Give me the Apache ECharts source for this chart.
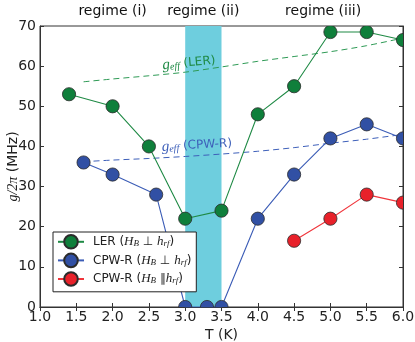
<!DOCTYPE html>
<html>
<head>
<meta charset="utf-8">
<script src="https://cdn.jsdelivr.net/npm/echarts@6/dist/echarts.min.js"></script>
<style>
  html, body { margin: 0; padding: 0; background: #fff; }
  #chart { width: 415px; height: 342px; }
</style>
</head>
<body>
<div id="chart"></div>
<script>
// measured coupling vs temperature
var tLER = [1.4, 2.0, 2.5, 3.0, 3.5, 4.0, 4.5, 5.0, 5.5, 6.0];
var gLER = [53, 50, 40, 22, 24, 48, 55, 68.5, 68.5, 66.5];
var tPerp = [1.6, 2.0, 2.6, 3.0, 3.3, 3.5, 4.0, 4.5, 5.0, 5.5, 6.0];
var gPerp = [36, 33, 28, 0, 0, 0, 22, 33, 42, 45.5, 42];
var tPar = [4.5, 5.0, 5.5, 6.0];
var gPar = [16.5, 22, 28, 26];

// g_eff curves (dashed)
var tEff = [1.6, 2.0, 2.5, 3.0, 3.5, 4.0, 4.5, 5.0, 5.5, 6.0];
var effLER = [56.1, 56.8, 57.6, 58.5, 59.8, 61.2, 62.4, 63.6, 65.1, 67];
var effCPW = [36.2, 36.6, 37.0, 37.5, 38.1, 38.8, 39.7, 40.8, 41.8, 43];

var regimeBand = [3.0, 3.5];
var regimeNames = ['regime (i)', 'regime (ii)', 'regime (iii)'];
var regimeT = [2.0, 3.25, 4.9];

var GREEN = '#0f7f3b', BLUE = '#3150a4', RED = '#e8212a';
var SERIF = 'Liberation Serif';

var pairs = function (xs, ys) {
    return xs.map(function (x, i) { return [x, ys[i]]; });
};

var lineSeries = function (name, xs, ys, color, lineColor) {
    return {
        name: name,
        type: 'line',
        data: pairs(xs, ys),
        symbol: 'circle',
        showSymbol: false,
        clip: true,
        z: 3,
        lineStyle: { color: lineColor, width: 1.1 },
        itemStyle: { color: color, borderColor: '#2b2b2b', borderWidth: 0.8 }
    };
};

// markers drawn separately so they get clipped by the axes box
var markerSeries = function (xs, ys, color) {
    return {
        type: 'custom',
        data: pairs(xs, ys),
        clip: true,
        z: 4,
        silent: true,
        encode: { x: 0, y: 1 },
        renderItem: function (params, api) {
            var p = api.coord([api.value(0), api.value(1)]);
            return {
                type: 'circle',
                shape: { cx: p[0], cy: p[1], r: 6.6 },
                style: { fill: color, stroke: '#2b2b2b', lineWidth: 0.8 }
            };
        }
    };
};

var dashSeries = function (ys, color) {
    return {
        type: 'line',
        data: pairs(tEff, ys),
        showSymbol: false,
        smooth: 0.3,
        clip: true,
        z: 2,
        silent: true,
        lineStyle: { color: color, width: 1, type: [6, 4] }
    };
};

var legendText = {
    'LER': 'LER ({m|H}{s|B} ⊥ {m|h}{s|rf})',
    'CPW-R perp': 'CPW-R ({m|H}{s|B} ⊥ {m|h}{s|rf})',
    'CPW-R par': 'CPW-R ({m|H}{s|B} ∥{m|h}{s|rf})'
};

var chart = echarts.init(document.getElementById('chart'));

var greenLine = lineSeries('LER', tLER, gLER, GREEN, '#1f8a45');
greenLine.markArea = {
    silent: true,
    itemStyle: { color: '#6ecede' },
    data: [[{ xAxis: regimeBand[0] }, { xAxis: regimeBand[1] }]]
};

var tickAxis = {
    axisLine: { show: true, lineStyle: { color: '#333', width: 1 } },
    axisTick: { show: true, inside: true, length: 4, lineStyle: { color: '#333' } },
    splitLine: { show: false }
};

chart.setOption({
    animation: false,
    textStyle: { fontFamily: 'DejaVu Sans' },
    grid: {
        left: 40, right: 12, top: 26, bottom: 35,
        outerBoundsMode: 'none', containLabel: false,
        show: true, borderColor: '#333', borderWidth: 1
    },
    xAxis: [
        Object.assign({
            type: 'value', min: 1, max: 6, interval: 0.5,
            name: 'T (K)', nameLocation: 'middle', nameGap: 21, nameMoveOverlap: false,
            nameTextStyle: { fontSize: 14, color: '#222' },
            axisLabel: { fontSize: 14, color: '#222', margin: 3, formatter: function (v) { return v.toFixed(1); } }
        }, tickAxis),
        Object.assign({
            type: 'value', min: 1, max: 6, interval: 0.5, position: 'top',
            axisLabel: { show: false }
        }, tickAxis)
    ],
    yAxis: [
        Object.assign({
            type: 'value', min: 0, max: 70, interval: 10,
            name: '{it|g/2π} (MHz)', nameLocation: 'middle', nameGap: 20, nameMoveOverlap: false,
            nameTextStyle: {
                fontSize: 14, color: '#222',
                rich: { it: { fontFamily: SERIF, fontStyle: 'italic', fontSize: 14, color: '#222' } }
            },
            axisLabel: { fontSize: 14, color: '#222', margin: 4 }
        }, tickAxis),
        Object.assign({
            type: 'value', min: 0, max: 70, interval: 10, position: 'right',
            axisLabel: { show: false }
        }, tickAxis)
    ],
    legend: {
        orient: 'vertical',
        left: 53, top: 232,
        data: ['LER', 'CPW-R perp', 'CPW-R par'],
        backgroundColor: '#fff',
        borderColor: '#222', borderWidth: 1, borderRadius: 0,
        padding: [2, 5, 5, 4],
        itemWidth: 26, itemHeight: 17, itemGap: 3,
        formatter: function (name) { return legendText[name]; },
        textStyle: {
            fontSize: 12, color: '#222', padding: [0, 0, 0, 4],
            rich: {
                m: { fontFamily: SERIF, fontStyle: 'italic', fontSize: 13, color: '#222' },
                s: { fontFamily: SERIF, fontStyle: 'italic', fontSize: 9, color: '#222', verticalAlign: 'bottom', lineHeight: 8 }
            }
        },
        z: 10
    },
    series: [
        dashSeries(effLER, '#2e9a55'),
        dashSeries(effCPW, '#3d5fb9'),
        greenLine,
        lineSeries('CPW-R perp', tPerp, gPerp, BLUE, '#3b5cb6'),
        lineSeries('CPW-R par', tPar, gPar, RED, '#f0353b'),
        markerSeries(tLER, gLER, GREEN),
        markerSeries(tPerp, gPerp, BLUE),
        markerSeries(tPar, gPar, RED)
    ]
});

// text annotations placed through the axis scales
var px = function (t, v) {
    return chart.convertToPixel({ xAxisIndex: 0, yAxisIndex: 0 }, [t, v]);
};
var annot = function (t, v, text, color, rot) {
    var p = px(t, v);
    return {
        type: 'text', x: p[0], y: p[1], rotation: rot, z: 5,
        style: {
            text: text, fill: color, align: 'center', verticalAlign: 'middle',
            fontFamily: 'DejaVu Sans', fontSize: 12,
            rich: {
                g: { fontFamily: SERIF, fontStyle: 'italic', fontSize: 15, fill: color },
                e: { fontFamily: SERIF, fontStyle: 'italic', fontSize: 10, fill: color, verticalAlign: 'bottom', lineHeight: 8 }
            }
        }
    };
};
var graphics = [
    annot(3.05, 60.8, '{g|g}{e|eff} (LER)', '#1f8a45', 0.09),
    annot(3.16, 40.3, '{g|g}{e|eff} (CPW-R)', '#3d5fb9', 0.05)
];
regimeNames.forEach(function (name, i) {
    var p = px(regimeT[i], 70);
    graphics.push({
        type: 'text', x: p[0], y: p[1] - 15,
        style: { text: name, fill: '#111', align: 'center', verticalAlign: 'middle', fontFamily: 'DejaVu Sans', fontSize: 14 }
    });
});
chart.setOption({ graphic: graphics });
</script>
</body>
</html>
